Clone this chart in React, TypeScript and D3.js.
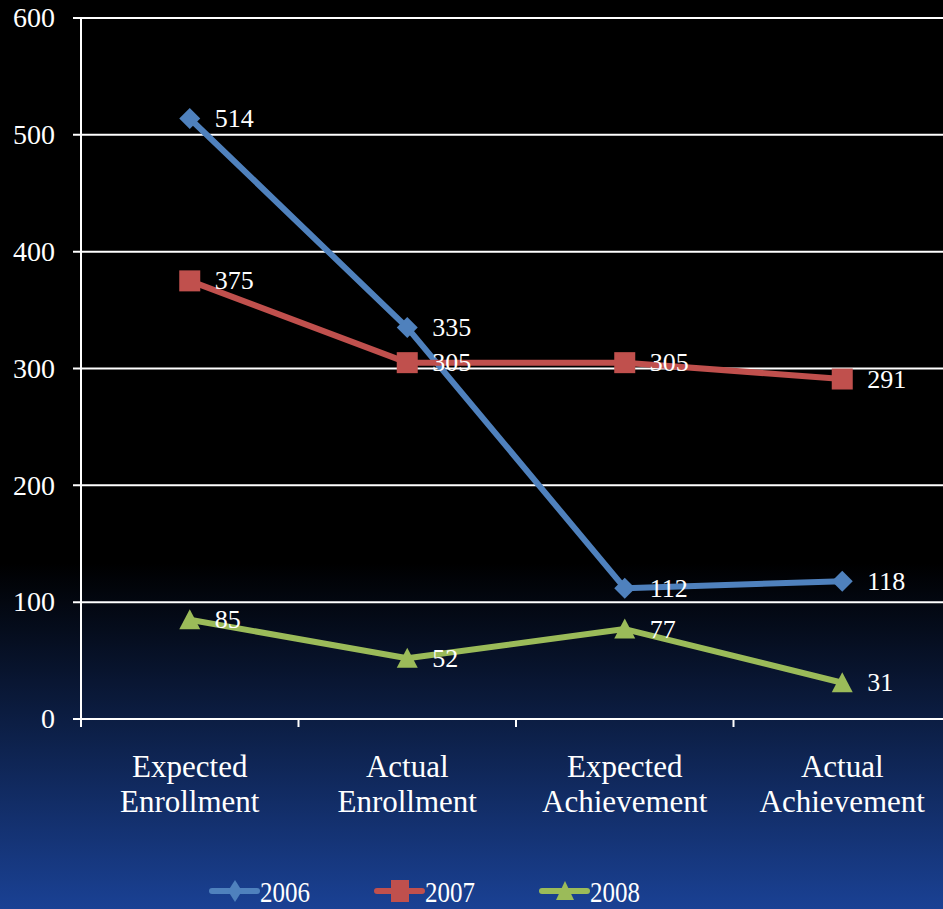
import React from 'react';
import * as d3 from 'd3';

const categories = [['Expected', 'Enrollment'], ['Actual', 'Enrollment'], ['Expected', 'Achievement'], ['Actual', 'Achievement']];
const series2006 = [514, 335, 112, 118];
const series2007 = [375, 305, 305, 291];
const series2008 = [85, 52, 77, 31];
const yTicks = [0, 100, 200, 300, 400, 500, 600];

const W = 943;
const H = 909;
const FONT = 'Liberation Serif, Times New Roman, serif';

const series = [
  { name: '2006', values: series2006, color: '#4f81bd', shape: 'diamond' },
  { name: '2007', values: series2007, color: '#c0504d', shape: 'square' },
  { name: '2008', values: series2008, color: '#9bbb59', shape: 'triangle' },
];

// sx/sy: half-size of the marker horizontally / vertically
const Marker: React.FC<{ shape: string; x: number; y: number; color: string; sx?: number; sy?: number }> = ({
  shape,
  x,
  y,
  color,
  sx = 10.5,
  sy = 10.5,
}) => {
  if (shape === 'diamond') {
    return <path d={`M${x},${y - sy}L${x + sx},${y}L${x},${y + sy}L${x - sx},${y}Z`} fill={color} />;
  }
  if (shape === 'square') {
    return <rect x={x - sx} y={y - sy} width={sx * 2} height={sy * 2} fill={color} />;
  }
  return <path d={`M${x},${y - sy}L${x + sx},${y + sy * 0.9}L${x - sx},${y + sy * 0.9}Z`} fill={color} />;
};

export default function App() {
  const x = d3.scaleBand<number>().domain(d3.range(categories.length)).range([81, 951]);
  const y = d3.scaleLinear().domain([0, 600]).range([719, 18]);
  const cx = (i: number) => (x(i) ?? 0) + x.bandwidth() / 2;
  const line = d3
    .line<number>()
    .x((_, i) => cx(i))
    .y((d) => y(d));

  const legendX = [212, 377, 542];
  const legendY = 891;

  return (
    <svg width={W} height={H} style={{ display: 'block', position: 'absolute', left: 0, top: 0 }}>
      <defs>
        <linearGradient id="bg" x1="0" y1="0" x2="0" y2="1">
          <stop offset="0" stopColor="#000000" />
          <stop offset="0.62" stopColor="#000000" />
          <stop offset="1" stopColor="#1a4194" />
        </linearGradient>
      </defs>
      <rect width={W} height={H} fill="url(#bg)" />

      {yTicks.map((t) => (
        <g key={t}>
          <line x1={73} x2={W} y1={y(t)} y2={y(t)} stroke="#fff" strokeWidth={2} />
          <text x={55} y={y(t)} dy="0.33em" textAnchor="end" fill="#fff" fontFamily={FONT} fontSize={28}>
            {t}
          </text>
        </g>
      ))}
      <line x1={81} x2={81} y1={18} y2={727} stroke="#fff" strokeWidth={2} />
      {categories.map((c, i) => (
        <g key={i}>
          <line x1={x(i)} x2={x(i)} y1={719} y2={727} stroke="#fff" strokeWidth={2} />
          {c.map((w, j) => (
            <text key={j} x={cx(i)} y={777 + j * 35} textAnchor="middle" fill="#fff" fontFamily={FONT} fontSize={31}>
              {w}
            </text>
          ))}
        </g>
      ))}

      {series.map((s) => (
        <g key={s.name}>
          <path d={line(s.values) ?? ''} fill="none" stroke={s.color} strokeWidth={6} strokeLinejoin="round" />
          {s.values.map((v, i) => (
            <Marker key={i} shape={s.shape} x={cx(i)} y={y(v)} color={s.color} />
          ))}
        </g>
      ))}
      {series.map((s) =>
        s.values.map((v, i) => (
          <text key={s.name + i} x={cx(i) + 25} y={y(v)} dy="0.33em" fill="#fff" fontFamily={FONT} fontSize={26}>
            {v}
          </text>
        ))
      )}

      {series.map((s, k) => (
        <g key={s.name}>
          <line
            x1={legendX[k]}
            x2={legendX[k] + 45}
            y1={legendY}
            y2={legendY}
            stroke={s.color}
            strokeWidth={6}
            strokeLinecap="round"
          />
          <Marker
            shape={s.shape}
            x={legendX[k] + 23}
            y={legendY}
            color={s.color}
            sx={s.shape === 'diamond' ? 7 : 9}
            sy={s.shape === 'triangle' ? 10 : 11}
          />
          <text
            x={legendX[k] + 48}
            y={902}
            fill="#fff"
            fontFamily={FONT}
            fontSize={30}
            textLength={50}
            lengthAdjust="spacingAndGlyphs"
          >
            {s.name}
          </text>
        </g>
      ))}
    </svg>
  );
}
